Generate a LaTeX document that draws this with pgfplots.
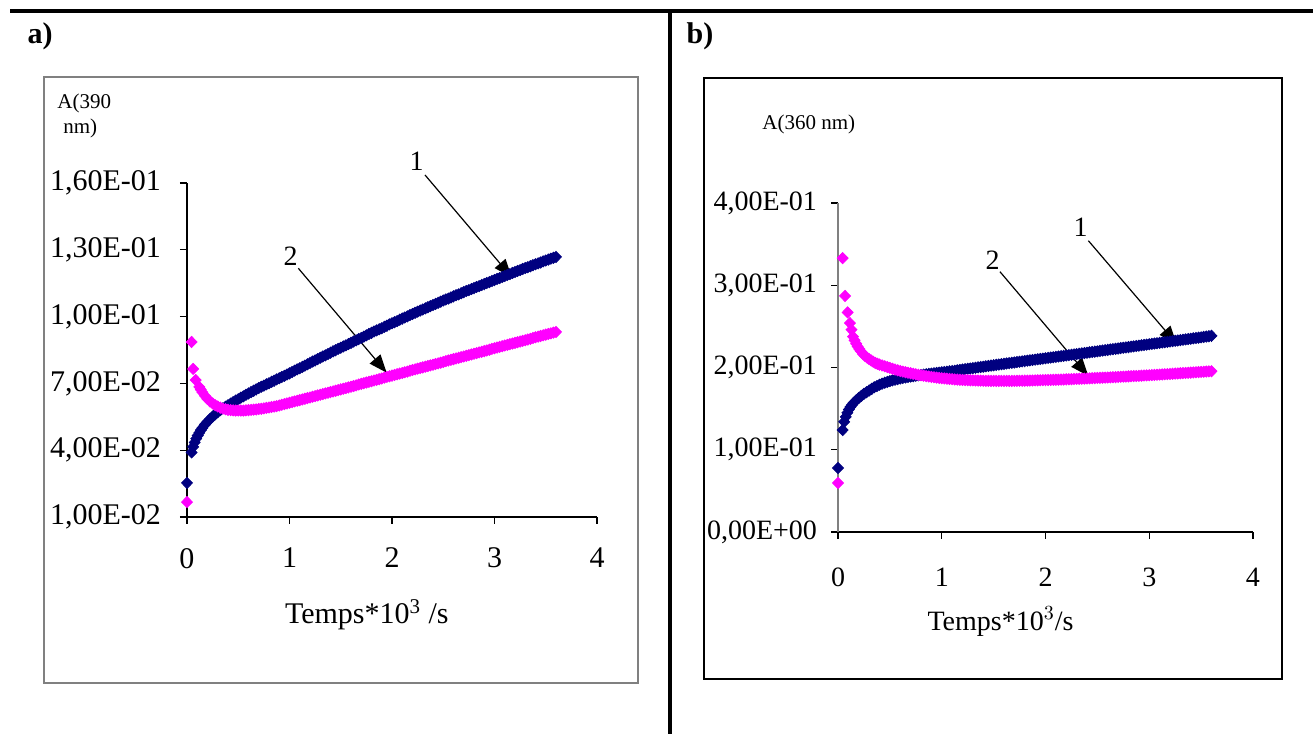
\documentclass[border=0pt]{standalone}
\usepackage{fontspec}
\setmainfont{Liberation Serif}
\usepackage{pgfplots}
\usepackage{pgfplotstable}
\pgfplotsset{compat=1.18}
\usetikzlibrary{arrows.meta}
\definecolor{navyb}{RGB}{0,0,128}
\definecolor{magp}{RGB}{255,0,255}

\pgfplotstableread{
x y
0 0.0253
0.045 0.0390
0.06 0.0415
0.075 0.0435
0.09 0.0452
0.105 0.0466
0.12 0.0478
0.135 0.0490
0.150 0.0500
0.175 0.0515
0.200 0.0528
0.225 0.0540
0.250 0.0551
0.275 0.0561
0.300 0.0571
0.325 0.0580
0.350 0.0588
0.375 0.0595
0.400 0.0602
0.425 0.0609
0.450 0.0616
0.475 0.0623
0.500 0.0629
0.525 0.0636
0.550 0.0642
0.575 0.0649
0.600 0.0655
0.625 0.0661
0.650 0.0667
0.675 0.0673
0.700 0.0679
0.725 0.0685
0.750 0.0690
0.775 0.0696
0.800 0.0701
0.825 0.0707
0.850 0.0712
0.875 0.0718
0.900 0.0723
0.925 0.0729
0.950 0.0734
0.975 0.0740
1.000 0.0745
1.025 0.0751
1.050 0.0757
1.075 0.0763
1.100 0.0768
1.125 0.0774
1.150 0.0780
1.175 0.0786
1.200 0.0792
1.225 0.0798
1.250 0.0803
1.275 0.0809
1.300 0.0815
1.325 0.0821
1.350 0.0826
1.375 0.0832
1.400 0.0838
1.425 0.0844
1.450 0.0849
1.475 0.0855
1.500 0.0860
1.525 0.0866
1.550 0.0871
1.575 0.0877
1.600 0.0882
1.625 0.0888
1.650 0.0893
1.675 0.0899
1.700 0.0904
1.725 0.0910
1.750 0.0916
1.775 0.0922
1.800 0.0927
1.825 0.0933
1.850 0.0938
1.875 0.0943
1.900 0.0948
1.925 0.0954
1.950 0.0959
1.975 0.0965
2.000 0.0970
2.025 0.0975
2.050 0.0980
2.075 0.0986
2.100 0.0991
2.125 0.0996
2.150 0.1001
2.175 0.1007
2.200 0.1012
2.225 0.1017
2.250 0.1022
2.275 0.1027
2.300 0.1032
2.325 0.1037
2.350 0.1042
2.375 0.1047
2.400 0.1052
2.425 0.1057
2.450 0.1062
2.475 0.1067
2.500 0.1072
2.525 0.1077
2.550 0.1081
2.575 0.1086
2.600 0.1091
2.625 0.1096
2.650 0.1100
2.675 0.1105
2.700 0.1110
2.725 0.1115
2.750 0.1119
2.775 0.1124
2.800 0.1128
2.825 0.1133
2.850 0.1137
2.875 0.1142
2.900 0.1146
2.925 0.1151
2.950 0.1155
2.975 0.1160
3.000 0.1164
3.025 0.1169
3.050 0.1173
3.075 0.1178
3.100 0.1182
3.125 0.1187
3.150 0.1191
3.175 0.1196
3.200 0.1200
3.225 0.1205
3.250 0.1209
3.275 0.1214
3.300 0.1218
3.325 0.1222
3.350 0.1226
3.375 0.1231
3.400 0.1235
3.425 0.1239
3.450 0.1243
3.475 0.1248
3.500 0.1252
3.525 0.1256
3.550 0.1260
3.575 0.1264
3.600 0.1268
}\aone

\pgfplotstableread{
x y
0 0.0167
0.045 0.0886
0.06 0.0765
0.085 0.0715
0.12 0.0684
0.135 0.0672
0.150 0.0660
0.175 0.0644
0.200 0.0630
0.225 0.0619
0.250 0.0610
0.275 0.0602
0.300 0.0596
0.325 0.0591
0.350 0.0587
0.375 0.0584
0.400 0.0581
0.425 0.0580
0.450 0.0579
0.475 0.0578
0.500 0.0578
0.525 0.0578
0.550 0.0578
0.575 0.0579
0.600 0.0580
0.625 0.0581
0.650 0.0582
0.675 0.0583
0.700 0.0585
0.725 0.0586
0.750 0.0588
0.775 0.0590
0.800 0.0592
0.825 0.0594
0.850 0.0596
0.875 0.0598
0.900 0.0601
0.925 0.0604
0.950 0.0607
0.975 0.0610
1.000 0.0613
1.025 0.0616
1.050 0.0619
1.075 0.0622
1.100 0.0625
1.125 0.0628
1.150 0.0631
1.175 0.0634
1.200 0.0637
1.225 0.0640
1.250 0.0643
1.275 0.0646
1.300 0.0649
1.325 0.0652
1.350 0.0655
1.375 0.0658
1.400 0.0661
1.425 0.0664
1.450 0.0667
1.475 0.0670
1.500 0.0673
1.525 0.0676
1.550 0.0679
1.575 0.0682
1.600 0.0685
1.625 0.0688
1.650 0.0691
1.675 0.0695
1.700 0.0698
1.725 0.0701
1.750 0.0704
1.775 0.0707
1.800 0.0710
1.825 0.0713
1.850 0.0716
1.875 0.0719
1.900 0.0722
1.925 0.0726
1.950 0.0729
1.975 0.0732
2.000 0.0735
2.025 0.0738
2.050 0.0741
2.075 0.0744
2.100 0.0747
2.125 0.0750
2.150 0.0753
2.175 0.0757
2.200 0.0760
2.225 0.0763
2.250 0.0766
2.275 0.0769
2.300 0.0772
2.325 0.0775
2.350 0.0778
2.375 0.0781
2.400 0.0784
2.425 0.0787
2.450 0.0790
2.475 0.0793
2.500 0.0796
2.525 0.0800
2.550 0.0803
2.575 0.0806
2.600 0.0809
2.625 0.0812
2.650 0.0815
2.675 0.0818
2.700 0.0821
2.725 0.0824
2.750 0.0827
2.775 0.0830
2.800 0.0833
2.825 0.0836
2.850 0.0839
2.875 0.0842
2.900 0.0845
2.925 0.0848
2.950 0.0851
2.975 0.0855
3.000 0.0858
3.025 0.0861
3.050 0.0864
3.075 0.0867
3.100 0.0870
3.125 0.0873
3.150 0.0876
3.175 0.0879
3.200 0.0882
3.225 0.0885
3.250 0.0888
3.275 0.0891
3.300 0.0894
3.325 0.0897
3.350 0.0900
3.375 0.0904
3.400 0.0907
3.425 0.0910
3.450 0.0913
3.475 0.0916
3.500 0.0919
3.525 0.0922
3.550 0.0925
3.575 0.0928
3.600 0.0931
}\atwo

\pgfplotstableread{
x y
0 0.0778
0.045 0.1240
0.06 0.1340
0.075 0.1400
0.09 0.1450
0.105 0.1490
0.12 0.1520
0.135 0.1545
0.150 0.1570
0.175 0.1600
0.200 0.1630
0.225 0.1655
0.250 0.1680
0.275 0.1700
0.300 0.1720
0.325 0.1740
0.350 0.1760
0.375 0.1775
0.400 0.1790
0.425 0.1803
0.450 0.1815
0.475 0.1825
0.500 0.1835
0.525 0.1844
0.550 0.1852
0.575 0.1859
0.600 0.1866
0.625 0.1873
0.650 0.1879
0.675 0.1885
0.700 0.1890
0.725 0.1895
0.750 0.1900
0.775 0.1905
0.800 0.1909
0.825 0.1914
0.850 0.1918
0.875 0.1922
0.900 0.1926
0.925 0.1930
0.950 0.1934
0.975 0.1938
1.000 0.1941
1.025 0.1945
1.050 0.1949
1.075 0.1953
1.100 0.1957
1.125 0.1961
1.150 0.1966
1.175 0.1970
1.200 0.1975
1.225 0.1979
1.250 0.1984
1.275 0.1988
1.300 0.1993
1.325 0.1997
1.350 0.2002
1.375 0.2006
1.400 0.2010
1.425 0.2015
1.450 0.2019
1.475 0.2023
1.500 0.2027
1.525 0.2032
1.550 0.2036
1.575 0.2040
1.600 0.2044
1.625 0.2049
1.650 0.2053
1.675 0.2057
1.700 0.2061
1.725 0.2066
1.750 0.2070
1.775 0.2074
1.800 0.2078
1.825 0.2083
1.850 0.2087
1.875 0.2091
1.900 0.2095
1.925 0.2100
1.950 0.2104
1.975 0.2108
2.000 0.2112
2.025 0.2117
2.050 0.2121
2.075 0.2125
2.100 0.2129
2.125 0.2134
2.150 0.2138
2.175 0.2142
2.200 0.2146
2.225 0.2151
2.250 0.2155
2.275 0.2159
2.300 0.2163
2.325 0.2168
2.350 0.2172
2.375 0.2176
2.400 0.2180
2.425 0.2185
2.450 0.2189
2.475 0.2193
2.500 0.2197
2.525 0.2202
2.550 0.2206
2.575 0.2210
2.600 0.2214
2.625 0.2219
2.650 0.2223
2.675 0.2227
2.700 0.2231
2.725 0.2236
2.750 0.2240
2.775 0.2244
2.800 0.2248
2.825 0.2253
2.850 0.2257
2.875 0.2261
2.900 0.2265
2.925 0.2270
2.950 0.2274
2.975 0.2278
3.000 0.2282
3.025 0.2287
3.050 0.2291
3.075 0.2295
3.100 0.2299
3.125 0.2304
3.150 0.2308
3.175 0.2312
3.200 0.2316
3.225 0.2321
3.250 0.2325
3.275 0.2329
3.300 0.2333
3.325 0.2338
3.350 0.2342
3.375 0.2346
3.400 0.2350
3.425 0.2355
3.450 0.2359
3.475 0.2363
3.500 0.2367
3.525 0.2372
3.550 0.2376
3.575 0.2380
3.600 0.2385
}\bone

\pgfplotstableread{
x y
0 0.0596
0.045 0.3330
0.068 0.2870
0.093 0.2670
0.115 0.2540
0.13 0.2460
0.145 0.2375
0.160 0.2330
0.175 0.2290
0.190 0.2255
0.205 0.2225
0.220 0.2198
0.240 0.2165
0.260 0.2140
0.280 0.2120
0.300 0.2102
0.320 0.2085
0.340 0.2070
0.360 0.2055
0.380 0.2045
0.400 0.2035
0.425 0.2025
0.450 0.2015
0.475 0.2005
0.500 0.1995
0.525 0.1985
0.550 0.1975
0.575 0.1966
0.600 0.1958
0.625 0.1950
0.650 0.1943
0.675 0.1936
0.700 0.1930
0.725 0.1923
0.750 0.1917
0.775 0.1911
0.800 0.1905
0.825 0.1900
0.850 0.1895
0.875 0.1890
0.900 0.1885
0.925 0.1881
0.950 0.1877
0.975 0.1873
1.000 0.1870
1.025 0.1867
1.050 0.1864
1.075 0.1861
1.100 0.1858
1.125 0.1855
1.150 0.1853
1.175 0.1851
1.200 0.1849
1.225 0.1847
1.250 0.1846
1.275 0.1844
1.300 0.1843
1.325 0.1842
1.350 0.1841
1.375 0.1840
1.400 0.1839
1.425 0.1838
1.450 0.1838
1.475 0.1837
1.500 0.1837
1.525 0.1837
1.550 0.1837
1.575 0.1837
1.600 0.1837
1.625 0.1837
1.650 0.1837
1.675 0.1837
1.700 0.1838
1.725 0.1838
1.750 0.1839
1.775 0.1839
1.800 0.1840
1.825 0.1840
1.850 0.1841
1.875 0.1842
1.900 0.1843
1.925 0.1844
1.950 0.1845
1.975 0.1846
2.000 0.1847
2.025 0.1848
2.050 0.1849
2.075 0.1850
2.100 0.1851
2.125 0.1852
2.150 0.1853
2.175 0.1854
2.200 0.1856
2.225 0.1857
2.250 0.1858
2.275 0.1860
2.300 0.1861
2.325 0.1862
2.350 0.1864
2.375 0.1865
2.400 0.1867
2.425 0.1868
2.450 0.1870
2.475 0.1871
2.500 0.1873
2.525 0.1874
2.550 0.1876
2.575 0.1877
2.600 0.1879
2.625 0.1880
2.650 0.1882
2.675 0.1883
2.700 0.1885
2.725 0.1887
2.750 0.1889
2.775 0.1890
2.800 0.1892
2.825 0.1894
2.850 0.1896
2.875 0.1897
2.900 0.1899
2.925 0.1901
2.950 0.1903
2.975 0.1904
3.000 0.1906
3.025 0.1908
3.050 0.1910
3.075 0.1912
3.100 0.1914
3.125 0.1916
3.150 0.1918
3.175 0.1920
3.200 0.1922
3.225 0.1924
3.250 0.1926
3.275 0.1928
3.300 0.1930
3.325 0.1932
3.350 0.1934
3.375 0.1936
3.400 0.1938
3.425 0.1940
3.450 0.1942
3.475 0.1944
3.500 0.1946
3.525 0.1948
3.550 0.1951
3.575 0.1953
3.600 0.1955
}\btwo

\pgfplotsset{
  exstyle/.style={
    scale only axis, enlargelimits=false, clip=false,
    axis x line*=bottom, axis y line*=left,
    tick align=outside, major tick length=3.5pt,
    tick style={black, line width=0.6pt},
    axis line style={line width=0.7pt},
    xmin=0, xmax=4, xtick={0,1,2,3,4}, xticklabels={0,1,2,3,4},
  },
  s1/.style={only marks, mark=diamond*, mark size=2.8pt, color=navyb, mark options={draw=navyb, fill=navyb, xscale=1.3}},
  s2/.style={only marks, mark=diamond*, mark size=2.8pt, color=magp, mark options={draw=magp, fill=magp, xscale=1.3}},
}

\begin{document}
\begin{tikzpicture}[x=1pt,y=1pt]
\path[use as bounding box] (0,0) rectangle (656.5,367);
% page rules
\draw[line width=2.2pt] (5,361.5) -- (656.5,361.5);
\draw[line width=2.2pt] (335,362) -- (335,0);
% frames
\draw[gray, line width=0.8pt] (22,328.5) rectangle (319,25.5);
\draw[black, line width=0.8pt] (352,328) rectangle (641,27.5);
% panel labels
\node[font=\fontsize{15}{17}\selectfont\bfseries] at (20,349) {a)};
\node[font=\fontsize{15}{17}\selectfont\bfseries] at (350,349) {b)};

\begin{axis}[exstyle, at={(93.5pt,108.5pt)}, anchor=south west,
  width=205pt, height=167pt,
  ymin=0.01, ymax=0.16,
  ytick={0.01,0.04,0.07,0.10,0.13,0.16},
  yticklabels={{1,00E-02},{4,00E-02},{7,00E-02},{1,00E-01},{1,30E-01},{1,60E-01}},
  tick label style={font=\fontsize{15}{17}\selectfont},
  xticklabel style={yshift=-8.5pt},
  yticklabel style={xshift=-6pt},
]
\addplot[s1] table {\aone};
\addplot[s2] table {\atwo};
\draw[line width=0.6pt, -{Triangle[length=9pt,width=7pt]}] (axis cs:2.322,0.1636) -- (axis cs:3.168,0.1177);
\draw[line width=0.6pt, -{Triangle[length=9pt,width=7pt]}] (axis cs:1.086,0.1217) -- (axis cs:1.948,0.0748);
\node[font=\fontsize{14}{16}\selectfont] at (axis cs:2.241,0.1696) {1};
\node[font=\fontsize{14}{16}\selectfont] at (axis cs:1.012,0.1272) {2};
\end{axis}

\begin{axis}[exstyle, at={(419pt,101pt)}, anchor=south west,
  width=207.5pt, height=164.5pt,
  ymin=0, ymax=0.4,
  ytick={0,0.1,0.2,0.3,0.4},
  yticklabels={{0,00E+00},{1,00E-01},{2,00E-01},{3,00E-01},{4,00E-01}},
  y axis line style={gray},
  tick label style={font=\fontsize{14}{16}\selectfont},
  xticklabel style={yshift=-11pt},
  yticklabel style={xshift=-3.5pt},
]
\addplot[s1] table {\bone};
\addplot[s2] table {\btwo};
\draw[line width=0.6pt, -{Triangle[length=9pt,width=7pt]}] (axis cs:2.413,0.3542) -- (axis cs:3.265,0.2286);
\draw[line width=0.6pt, -{Triangle[length=9pt,width=7pt]}] (axis cs:1.561,0.3165) -- (axis cs:2.413,0.1897);
\node[font=\fontsize{14}{16}\selectfont] at (axis cs:2.339,0.3705) {1};
\node[font=\fontsize{14}{16}\selectfont] at (axis cs:1.491,0.3307) {2};
\end{axis}

% axis titles
\node[anchor=west, inner sep=0pt, font=\fontsize{10.5}{12}\selectfont] at (28.5,315.5) {A(390};
\node[anchor=west, inner sep=0pt, font=\fontsize{10.5}{12}\selectfont] at (31.5,303) {nm)};
\node[anchor=west, inner sep=0pt, font=\fontsize{10.5}{12}\selectfont] at (381,305) {A(360 nm)};
\node[font=\fontsize{15}{17}\selectfont] at (183.4,59.5) {Temps*10\textsuperscript{3} /s};
\node[font=\fontsize{14}{16}\selectfont] at (500.25,56.2) {Temps*10$^{3}$/s};
\end{tikzpicture}
\end{document}
